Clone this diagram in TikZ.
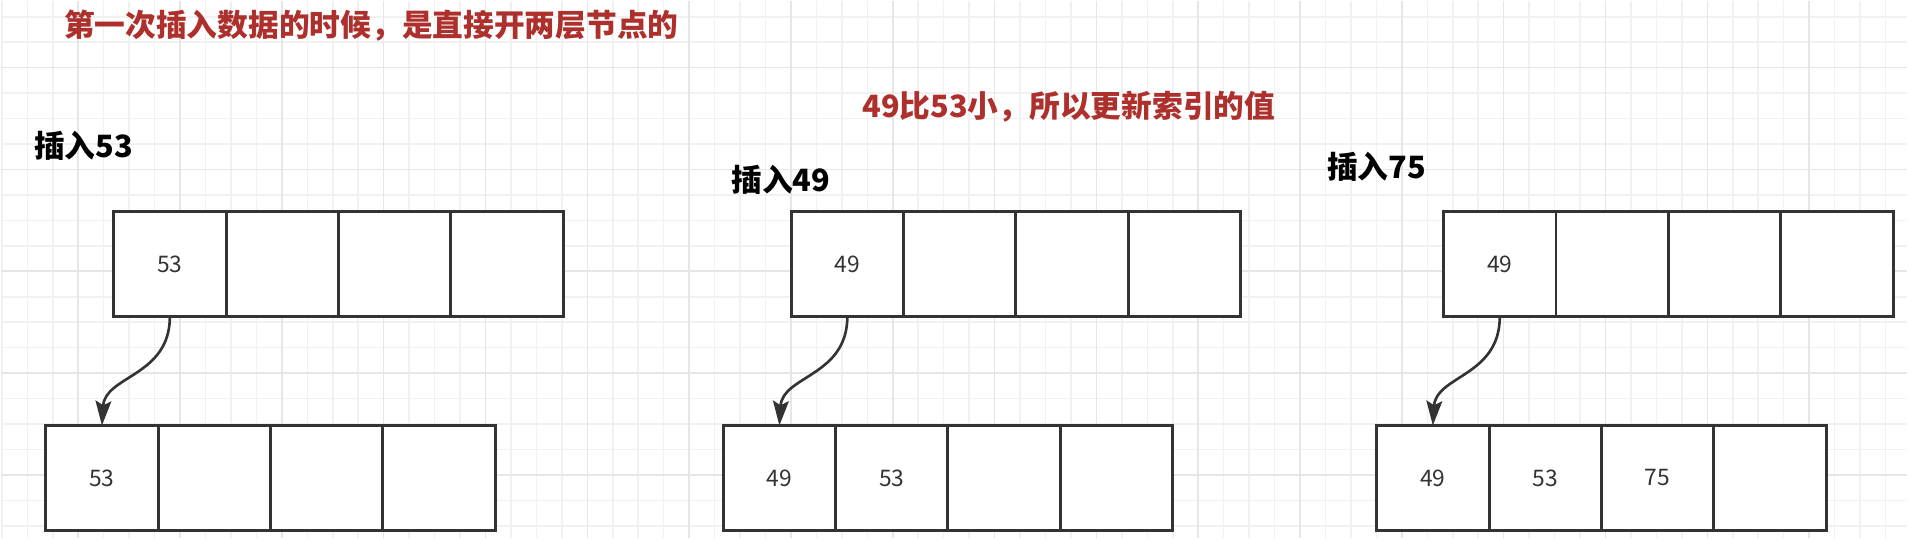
\documentclass[tikz,border=0pt]{standalone}
\usepackage{fontspec}
\usetikzlibrary{arrows.meta,positioning}
\newfontfamily\cjk{Noto Sans CJK SC}
\definecolor{noteRed}{RGB}{174,48,44}
\definecolor{boxLine}{RGB}{51,51,51}
\definecolor{gridMinor}{RGB}{241,241,241}
\definecolor{gridMajor}{RGB}{230,230,230}

\begin{document}
\begin{tikzpicture}[
  x=0.02cm, y=-0.02cm,
  node distance=0pt,
  cell/.style={draw=boxLine, line width=1.7pt, fill=white, minimum width=2.25cm, minimum height=2.1cm, inner sep=0pt, outer sep=0pt, text=boxLine, font=\cjk\fontsize{13}{15}\selectfont},
  stagelbl/.style={anchor=west, inner sep=0pt, text=black, font=\cjk\bfseries\fontsize{17.5}{20}\selectfont},
  rednote/.style={stagelbl, text=noteRed},
  link/.style={draw=boxLine, line width=1.5pt, -{Stealth[length=14pt, width=9pt, inset=2.5pt]}},
]
% background grid
\fill[white] (0,0) rectangle (1908,538);
\foreach \gx in {0,...,74} \draw[gridMinor, line width=0.9pt] ({1.075+25.475*\gx},0) -- ++(0,538);
\foreach \gy in {0,...,20} \draw[gridMinor, line width=0.9pt] (0,{15.95+25.475*\gy}) -- ++(1908,0);
\foreach \gx in {0,...,17} \draw[gridMajor, line width=0.9pt] ({77.5+101.9*\gx},0) -- ++(0,538);
\foreach \gy in {0,...,4} \draw[gridMajor, line width=0.9pt] (0,{66.9+101.9*\gy}) -- ++(1908,0);
\useasboundingbox (0,0) rectangle (1908,538);

\node[rednote] (hint1) at (63,25) {第一次插入数据的时候，是直接开两层节点的};
\node[rednote] (hint2) at (862,106) {49比53小，所以更新索引的值};

% insert 53
\node[stagelbl] (lbl53) at (33,145) {插入53};
\node[cell, anchor=north west] (p1t1) at (113,211) {53};
\node[cell, right=of p1t1] (p1t2) {};
\node[cell, right=of p1t2] (p1t3) {};
\node[cell, right=of p1t3] (p1t4) {};
\node[cell, anchor=north west] (p1b1) at (45,425) {53};
\node[cell, right=of p1b1] (p1b2) {};
\node[cell, right=of p1b2] (p1b3) {};
\node[cell, right=of p1b3] (p1b4) {};
\draw[link] (p1t1.south) .. controls +(0,60) and +(3,-50) .. (p1b1.north);

% insert 49
\node[stagelbl] (lbl49) at (731,179) {插入49};
\node[cell, anchor=north west] (p2t1) at (791,211) {49};
\node[cell, right=of p2t1] (p2t2) {};
\node[cell, right=of p2t2] (p2t3) {};
\node[cell, right=of p2t3] (p2t4) {};
\node[cell, anchor=north west] (p2b1) at (723,425) {49};
\node[cell, right=of p2b1] (p2b2) {53};
\node[cell, right=of p2b2] (p2b3) {};
\node[cell, right=of p2b3] (p2b4) {};
\draw[link] (p2t1.south) .. controls +(0,60) and +(3,-50) .. (p2b1.north);

% insert 75
\node[stagelbl] (lbl75) at (1327,166) {插入75};
\node[cell, anchor=north west] (p3t1) at (1444,211) {49};
\node[cell, right=of p3t1] (p3t2) {};
\node[cell, right=of p3t2] (p3t3) {};
\node[cell, right=of p3t3] (p3t4) {};
\node[cell, anchor=north west] (p3b1) at (1377,425) {49};
\node[cell, right=of p3b1] (p3b2) {53};
\node[cell, right=of p3b2] (p3b3) {75};
\node[cell, right=of p3b3] (p3b4) {};
\draw[link] (p3t1.south) .. controls +(0,60) and +(3,-50) .. (p3b1.north);
\end{tikzpicture}
\end{document}
